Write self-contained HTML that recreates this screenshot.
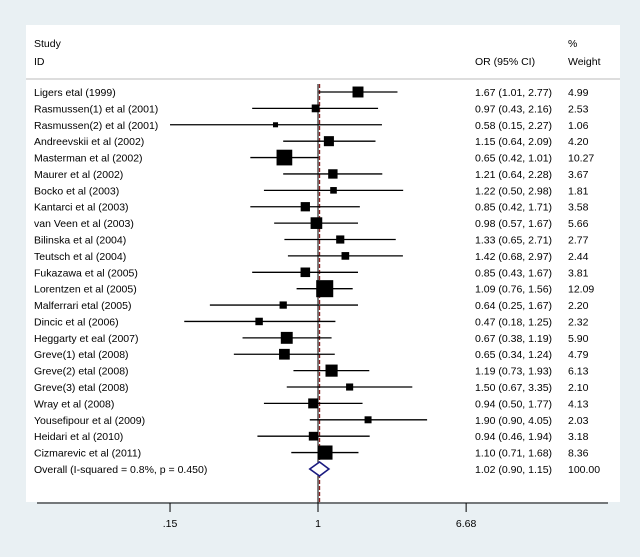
<!DOCTYPE html>
<html><head><meta charset="utf-8"><style>
body{margin:0;background:#e9f0f3;}
svg{display:block;font-family:"Liberation Sans",sans-serif;}
</style></head><body>
<svg id="chart" width="640" height="557">
<rect x="26" y="25" width="594" height="477" fill="#fff"/>
<line x1="26" y1="79" x2="620" y2="79" stroke="#ddd" stroke-width="2"/>
<text x="34" y="47" font-size="10.5">Study</text>
<text x="34" y="65" font-size="10.5">ID</text>
<text x="475" y="65" font-size="10.5">OR (95% CI)</text>
<text x="568" y="47" font-size="10.5">%</text>
<text x="568" y="65" font-size="10.5">Weight</text>
<g id="rows"></g>
<line x1="37" y1="503" x2="608" y2="503" stroke="#000"/>
<g id="ticks"></g>
</svg>
<script>
const studies=["Ligers etal (1999)","Rasmussen(1) et al (2001)","Rasmussen(2) et al (2001)","Andreevskii et al (2002)","Masterman et al (2002)","Maurer et al (2002)","Bocko et al (2003)","Kantarci et al (2003)","van Veen et al (2003)","Bilinska et al (2004)","Teutsch et al (2004)","Fukazawa et al (2005)","Lorentzen et al (2005)","Malferrari etal  (2005)","Dincic et al (2006)","Heggarty et eal (2007)","Greve(1) etal (2008)","Greve(2) etal (2008)","Greve(3) etal (2008)","Wray et al (2008)","Yousefipour et al (2009)","Heidari et al (2010)","Cizmarevic et al (2011)"];
const orv=[1.67,0.97,0.58,1.15,0.65,1.21,1.22,0.85,0.98,1.33,1.42,0.85,1.09,0.64,0.47,0.67,0.65,1.19,1.50,0.94,1.90,0.94,1.10];
const lo=[1.01,0.43,0.15,0.64,0.42,0.64,0.50,0.42,0.57,0.65,0.68,0.43,0.76,0.25,0.18,0.38,0.34,0.73,0.67,0.50,0.90,0.46,0.71];
const hi=[2.77,2.16,2.27,2.09,1.01,2.28,2.98,1.71,1.67,2.71,2.97,1.67,1.56,1.67,1.25,1.19,1.24,1.93,3.35,1.77,4.05,1.94,1.68];
const weights=[4.99,2.53,1.06,4.20,10.27,3.67,1.81,3.58,5.66,2.77,2.44,3.81,12.09,2.20,2.32,5.90,4.79,6.13,2.10,4.13,2.03,3.18,8.36];
const overall=[1.02,0.90,1.15];
const overallLabel="Overall  (I-squared = 0.8%, p = 0.450)";
const tickVals=[0.15,1,6.68];
const tickLabels=[".15","1","6.68"];
const NS="http://www.w3.org/2000/svg";
const X=v=>318+78*Math.log(v);
const Y=i=>92+16.39*i;
const rows=document.getElementById('rows');
function mk(tag,at,par){const e=document.createElementNS(NS,tag);for(const k in at)e.setAttribute(k,at[k]);par.appendChild(e);return e;}
const f=v=>v.toFixed(2);
// reference lines
const yTop=84, yBot=503;
let l1=mk('line',{x1:X(1),y1:yTop,x2:X(1),y2:yBot,stroke:'#000','stroke-width':1},rows);


let l2=mk('line',{x1:X(overall[0]),y1:yTop,x2:X(overall[0]),y2:yBot,stroke:'#8a2020','stroke-width':1.3,'stroke-dasharray':'4,2'},rows);


studies.forEach((s,i)=>{
  const y=Y(i);
  let t=mk('text',{x:34,y:y+4,'font-size':'10.5'},rows);t.textContent=s;
  
  
  let ci=mk('line',{x1:X(lo[i]),y1:y,x2:X(hi[i]),y2:y,stroke:'#000','stroke-width':1.3},rows);
  
  
  const sz=4.9*Math.sqrt(weights[i]);
  let sq=mk('rect',{x:X(orv[i])-sz/2,y:y-sz/2,width:sz,height:sz,fill:'#000'},rows);
  
  
  let o=mk('text',{x:475,y:y+4,'font-size':'10.5'},rows);o.textContent=`${f(orv[i])} (${f(lo[i])}, ${f(hi[i])})`;
  
  
  let w=mk('text',{x:568,y:y+4,'font-size':'10.5'},rows);w.textContent=f(weights[i]);
  
  
});
const yo=Y(studies.length);
let ot=mk('text',{x:34,y:yo+4,'font-size':'10.5'},rows);ot.textContent=overallLabel;


let d=mk('polygon',{points:`${X(overall[1])},${yo} ${X(overall[0])},${yo-7} ${X(overall[2])},${yo} ${X(overall[0])},${yo+7}`,fill:'#fff',stroke:'#1a1a80','stroke-width':1.6},rows);


let oo=mk('text',{x:475,y:yo+4,'font-size':'10.5'},rows);oo.textContent=`${f(overall[0])} (${f(overall[1])}, ${f(overall[2])})`;


let ow=mk('text',{x:568,y:yo+4,'font-size':'10.5'},rows);ow.textContent="100.00";


const tg=document.getElementById('ticks');
tickVals.forEach((v,i)=>{
  let tk=mk('line',{x1:X(v),y1:503,x2:X(v),y2:512,stroke:'#000'},tg);
  
  
  let tl=mk('text',{x:X(v),y:527,'font-size':'10.5','text-anchor':'middle'},tg);tl.textContent=tickLabels[i];
  
  
});
</script>
</body></html>
